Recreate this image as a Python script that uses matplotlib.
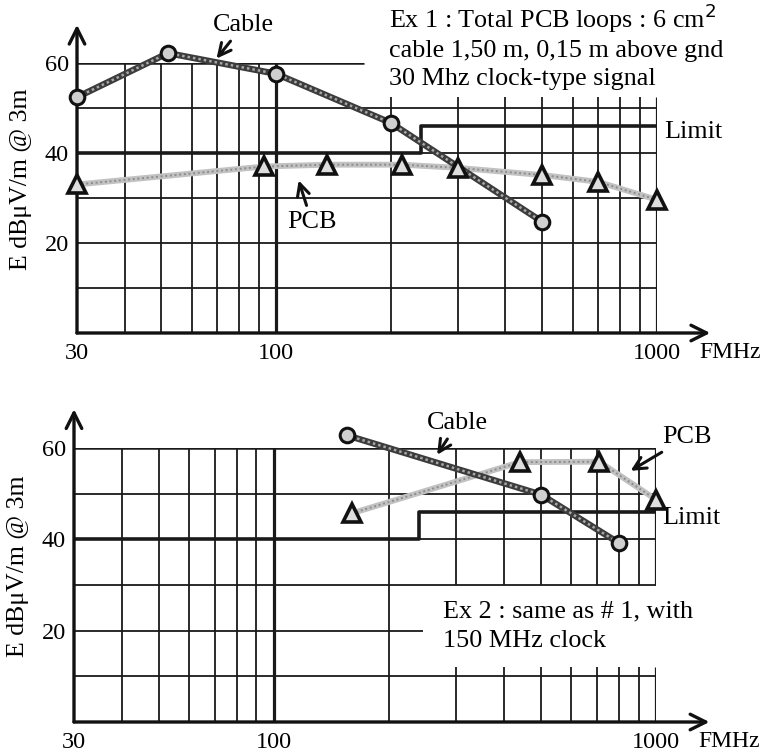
import matplotlib.pyplot as plt

plt.rcParams['font.family'] = ['Liberation Serif', 'DejaVu Serif']

# Ex 1 : 30 MHz clock
cabo1_f = [30, 52, 100, 200, 500]
cabo1_db = [52.4, 62.2, 57.6, 46.7, 24.7]
pcb1_f = [30, 93, 136, 214, 300, 500, 700, 1000]
pcb1_db = [33.0, 37.0, 37.4, 37.4, 36.7, 35.1, 33.6, 29.6]

# Ex 2 : 150 MHz clock
cabo2_f = [155, 500, 800]
cabo2_db = [62.8, 49.8, 39.2]
pcb2_f = [160, 440, 710, 1000]
pcb2_db = [45.7, 56.9, 57.0, 48.7]

# limite em degrau
limite_f = [30, 240, 240, 1000]
limite_db = [40, 40, 46, 46]

xticks = [30, 100, 1000]
xtick_labels = ["30", "100", "1000"]
yticks = [20, 40, 60]

grade_fina = [40, 50, 60, 70, 80, 90]
grade_alta = [200, 300, 400, 500, 600, 700, 800, 900]

W, H = 765, 752
fig = plt.figure(figsize=(W / 100, H / 100), dpi=100)

tam_tick = 17.5
tam_txt = 18.8


def eixo(px_esq, px_dir, px_base, px_60):
    return fig.add_axes([px_esq / W, 1 - px_base / H,
                         (px_dir - px_esq) / W, (px_base - px_60) / H])


def preparar(ax):
    ax.set_xscale("log")
    ax.set_xlim(30, 1000)
    ax.set_ylim(0, 60)
    for s in ax.spines.values():
        s.set_visible(False)
    ax.set_xticks(xticks)
    ax.set_xticklabels(xtick_labels)
    ax.minorticks_off()
    ax.set_yticks(yticks)
    ax.tick_params(length=0, labelsize=tam_tick, pad=6)
    ax.tick_params(axis="x", pad=7)
    ax.patch.set_alpha(0)
    # eixos com seta
    seta = dict(arrowstyle="->", lw=2.4, color="#111", mutation_scale=28,
                shrinkA=0, shrinkB=0)
    ax.annotate("", xy=(30, 68.5), xytext=(30, 0), arrowprops=seta,
                annotation_clip=False)
    ax.annotate("", xy=(1380, 0), xytext=(30, 0), arrowprops=seta,
                annotation_clip=False)
    ax.text(1290, -2.0, "FMHz", fontsize=17, ha="left", va="top",
            clip_on=False)
    ax.set_ylabel("E dBμV/m @ 3m", fontsize=18.5)
    ax.yaxis.set_label_coords(-0.077, 0.57)


def corda(ax, f, db, escuro):
    if escuro:
        ax.plot(f, db, color="#3c3c3c", lw=4.6, clip_on=False, zorder=4)
        ax.plot(f, db, color="#a8a8a8", lw=1.8, ls=(0, (1, 1.2)),
                clip_on=False, zorder=4)
    else:
        ax.plot(f, db, color="#c2c2c2", lw=4.2, clip_on=False, zorder=3)
        ax.plot(f, db, color="#8c8c8c", lw=1.4, ls=(0, (1, 1.4)),
                clip_on=False, zorder=3)


def marcadores(ax, f, db, tipo):
    if tipo == "o":
        ax.plot(f, db, "o", ms=10.5, mfc="#cfcfcf", mec="#111", mew=2.2,
                clip_on=False, zorder=6)
    else:
        ax.plot(f, db, "^", ms=13.5, mfc="#dedede", mec="#111", mew=2.6,
                clip_on=False, zorder=6)


lw_fina = 1.3
lw_grossa = 2.3
cor = "#1a1a1a"

# ---------------- Ex 1 ----------------
ax1 = eixo(77, 657, 333, 63)
preparar(ax1)
for v in [10, 20, 30, 40, 50]:
    ax1.hlines(v, 30, 1000, color=cor, lw=lw_fina)
ax1.hlines(60, 30, 170, color=cor, lw=1.8)
ax1.vlines(grade_fina, 0, 60, color=cor, lw=lw_fina)
ax1.vlines(100, 0, 60, color=cor, lw=lw_grossa)
ax1.vlines(grade_alta, 0, 52.5, color=cor, lw=lw_fina)
ax1.vlines(1000, 0, 52.5, color=cor, lw=lw_grossa)
ax1.plot(limite_f, limite_db, color=cor, lw=2.6, zorder=2)

corda(ax1, pcb1_f, pcb1_db, False)
corda(ax1, cabo1_f, cabo1_db, True)
marcadores(ax1, pcb1_f, pcb1_db, "^")
marcadores(ax1, cabo1_f, cabo1_db, "o")

seta_txt = dict(arrowstyle="->", lw=2.2, color="#111", mutation_scale=22)
ax1.annotate("Cable", xy=(69, 60.5), xytext=(82, 68.4), fontsize=tam_txt,
             ha="center", va="center", arrowprops=seta_txt,
             annotation_clip=False)
ax1.annotate("PCB", xy=(114, 34.5), xytext=(124, 24.7), fontsize=tam_txt,
             ha="center", va="center", arrowprops=seta_txt,
             annotation_clip=False)
ax1.text(1045, 44.7, "Limit", fontsize=tam_txt, ha="left", va="center")
ax1.text(198, 67.8, "Ex 1 : Total PCB loops : 6 cm$^2$", fontsize=tam_txt,
         ha="left", va="baseline", clip_on=False)
ax1.text(198, 61.3, "cable 1,50 m, 0,15 m above gnd", fontsize=tam_txt,
         ha="left", va="baseline", clip_on=False)
ax1.text(198, 55.1, "30 Mhz clock-type signal", fontsize=tam_txt,
         ha="left", va="baseline", clip_on=False)

# ---------------- Ex 2 ----------------
ax2 = eixo(74, 656, 722, 448)
preparar(ax2)
for v in [10, 30, 40, 50]:
    ax2.hlines(v, 30, 1000, color=cor, lw=lw_fina)
ax2.hlines(60, 30, 1000, color=cor, lw=1.8)
ax2.hlines(20, 30, 245, color=cor, lw=lw_fina)
ax2.vlines(grade_fina + [200], 0, 60, color=cor, lw=lw_fina)
ax2.vlines(100, 0, 60, color=cor, lw=lw_grossa)
ax2.vlines(grade_alta[1:], 0, 12, color=cor, lw=lw_fina)
ax2.vlines(grade_alta[1:], 30, 60, color=cor, lw=lw_fina)
ax2.vlines(1000, 0, 12, color=cor, lw=lw_grossa)
ax2.vlines(1000, 30, 60, color=cor, lw=lw_grossa)
ax2.plot(limite_f, limite_db, color=cor, lw=2.6, zorder=2)

corda(ax2, pcb2_f, pcb2_db, False)
corda(ax2, cabo2_f, cabo2_db, True)
marcadores(ax2, pcb2_f, pcb2_db, "^")
marcadores(ax2, cabo2_f, cabo2_db, "o")

ax2.annotate("Cable", xy=(265, 58.0), xytext=(303, 65.5), fontsize=tam_txt,
             ha="center", va="center", arrowprops=seta_txt,
             annotation_clip=False)
ax2.annotate("PCB", xy=(846, 54.7), xytext=(1207, 62.4), fontsize=tam_txt,
             ha="center", va="center", arrowprops=seta_txt,
             annotation_clip=False)
ax2.text(1041, 44.7, "Limit", fontsize=tam_txt, ha="left", va="center")
ax2.text(277, 22.8, "Ex 2 : same as # 1, with", fontsize=tam_txt,
         ha="left", va="baseline")
ax2.text(277, 16.4, "150 MHz clock", fontsize=tam_txt, ha="left",
         va="baseline")

fig.savefig("out.png", dpi=100)
